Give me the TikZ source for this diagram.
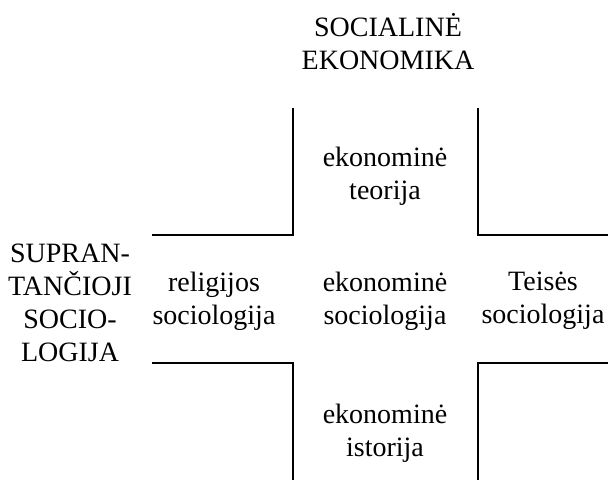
\documentclass[tikz,border=0pt]{standalone}
\usepackage{fontspec}
\setmainfont{Liberation Serif}
\usetikzlibrary{positioning}

\begin{document}
\begin{tikzpicture}[
  x=1pt, y=-1pt,
  line width=2.2pt,
  term/.style={align=center, inner sep=0pt, font=\fontsize{28}{33}\selectfont},
]

\useasboundingbox (0,0) rectangle (608,480);

% corner lines
\draw (152,235) -- (293,235) -- (293,108);
\draw (478,108) -- (478,235) -- (608,235);
\draw (152,363) -- (293,363) -- (293,480);
\draw (478,480) -- (478,363) -- (608,363);

% texts
\node[term] (soc) at (388,42) {SOCIALINĖ\\EKONOMIKA};
\node[term] (teo) at (385,176) {ekonominė\\teorija};
\node[term] (sup) at (70,303) {SUPRAN-\\TANČIOJI\\SOCIO-\\LOGIJA};
\node[term] (rel) at (214,301) {religijos\\sociologija};
\node[term] (eks) at (385,301) {ekonominė\\sociologija};
\node[term] (tei) at (543,301) {Teisės\\sociologija};
\node[term] (ist) at (385,433) {ekonominė\\istorija};

\end{tikzpicture}
\end{document}
